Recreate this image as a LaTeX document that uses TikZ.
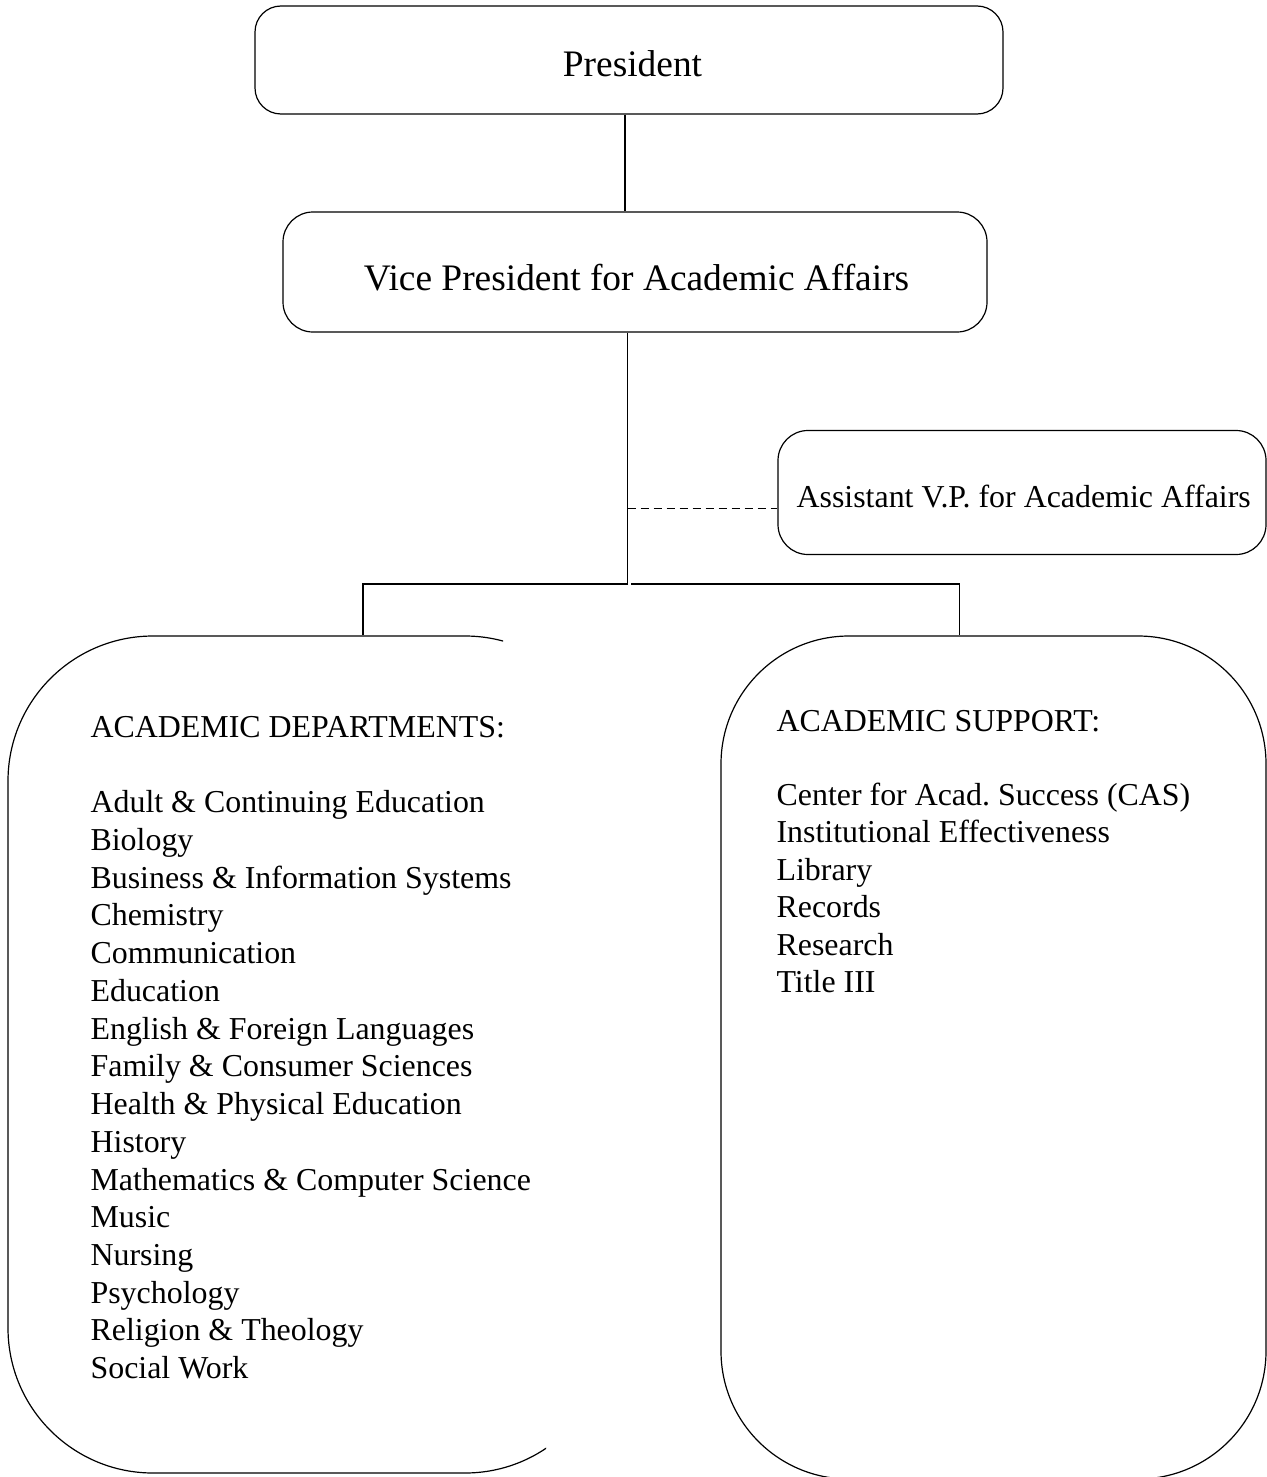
\documentclass[tikz,border=0pt]{standalone}
\usepackage{fontspec}
\setmainfont{Liberation Serif}
\frenchspacing
\begin{document}
\begin{tikzpicture}[x=0.5pt,y=-0.5pt, line width=0.6pt,
  box/.style={draw, rectangle, inner sep=0pt},
  bigfont/.style={font=\fontsize{18.7pt}{22pt}\selectfont},
  smallfont/.style={font=\fontsize{15.95pt}{19pt}\selectfont},
  txt/.style={inner sep=0pt, anchor=base},
  item/.style={inner sep=0pt, anchor=base west, smallfont},
  dashline/.style={dash pattern=on 4pt off 2.5pt}]
\useasboundingbox (0,0) rectangle (1267,1477);

% upper boxes
\node[box, rounded corners=13pt, minimum width=374pt, minimum height=54pt] (pres) at (629,60) {};
\node[txt, bigfont] (prestxt) at (632.5,76.5) {President};
\node[box, rounded corners=15pt, minimum width=352pt, minimum height=60pt] (vp) at (635,272) {};
\node[txt, bigfont] (vptxt) at (636.5,290) {Vice President for Academic Affairs};
\node[box, rounded corners=15pt, minimum width=244pt, minimum height=62pt] (asst) at (1022,492.5) {};
\node[txt, smallfont, anchor=base west] (assttxt) at (796,507) {Assistant V.P. for Academic Affairs};

% big boxes
\begin{scope}
  \clip (0,600) -- (503,600) -- (503,700) -- (546,1400) -- (546,1490) -- (0,1490) -- cycle;
  \node[box, rounded corners=72.5pt, minimum width=301pt, minimum height=418.5pt] (dept) at (309,1054.5) {};
\end{scope}
\node[box, rounded corners=64pt, minimum width=272.5pt, minimum height=421.5pt] (sup) at (993.5,1057.5) {};

% texts of big boxes
\node[item] (depthead) at (90,737) {ACADEMIC DEPARTMENTS:};
\foreach [count=\i] \t in {Adult \& Continuing Education, Biology, Business \& Information Systems, Chemistry, Communication, Education, English \& Foreign Languages, Family \& Consumer Sciences, Health \& Physical Education, History, Mathematics \& Computer Science, Music, Nursing, Psychology, Religion \& Theology, Social Work}
  \node[item] (dep\i) at (90,{812.7+(\i-1)*37.73}) {\t};

\node[item] (suphead) at (776,731) {ACADEMIC SUPPORT:};
\foreach [count=\i] \t in {Center for Acad. Success (CAS), Institutional Effectiveness, Library, Records, Research, Title III}
  \node[item] (sup\i) at (776,{805+(\i-1)*37.5}) {\t};

% connectors
\coordinate (c1) at (625,0);
\draw (pres.south -| c1) -- (vp.north -| c1);
\coordinate (jn) at (627.5,585);
\draw (vp.south -| jn) -- (jn);
\coordinate (hl) at (628,584);
\coordinate (hr) at (631,584);
\coordinate (dl) at (363,0);
\coordinate (dr) at (959.5,0);
\draw (hl) -| (dept.north -| dl);
\draw (hr) -| (sup.north -| dr);
\coordinate (dsh) at (627.5,508.5);
\draw[dashline] (dsh) -- (dsh -| asst.west);
\end{tikzpicture}
\end{document}
